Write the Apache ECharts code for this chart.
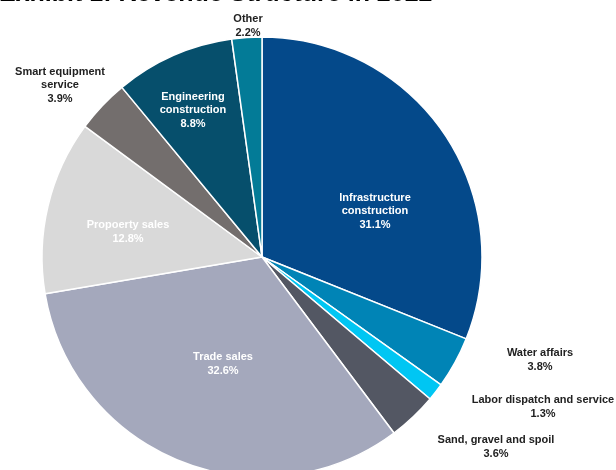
<!DOCTYPE html>
<html>
<head>
<meta charset="utf-8">
<script src="https://cdn.jsdelivr.net/npm/echarts@6/dist/echarts.min.js"></script>
<style>
  html, body { margin: 0; padding: 0; background: #fff; }
  #main { width: 616px; height: 470px; }
</style>
</head>
<body>
<div id="main"></div>
<script>
// 收入结构数据 (%)，从顶部顺时针
var categories = [
  "Infrastructure\nconstruction",
  "Water affairs",
  "Labor dispatch and service",
  "Sand, gravel and spoil",
  "Trade sales",
  "Propoerty sales",
  "Smart equipment\nservice",
  "Engineering\nconstruction",
  "Other"
];
var shares = [31.1, 3.8, 1.3, 3.6, 32.6, 12.8, 3.9, 8.8, 2.2];

var colors = ["#04498a", "#0084b6", "#00c6f3", "#535763", "#a4a8bc",
              "#d9d9d9", "#736e6d", "#064f6c", "#037b97"];
// 标签中心位置（像素）和颜色
var labelPos = [[375, 211], [540, 360], [543, 407], [496, 447], [223, 364],
                [128, 232], [60, 85], [193, 110], [248, 26]];
var labelColor = ["#fff", "#222", "#222", "#222", "#fff", "#fff", "#222", "#fff", "#222"];

var myChart = echarts.init(document.getElementById('main'));

var option = {
  animation: false,
  title: {
    text: "Exhibit 1: Revenue Structure in 2022",
    left: -1,
    top: -18,
    padding: 0,
    textStyle: {
      fontFamily: "Liberation Sans, Arial",
      fontSize: 25,
      fontWeight: "bold",
      color: "#000"
    }
  },
  series: [
    {
      type: "pie",
      center: [262, 257],
      radius: 220,
      startAngle: 90,
      clockwise: true,
      avoidLabelOverlap: false,
      itemStyle: { borderColor: "#fff", borderWidth: 1.5 },
      label: {
        show: true,
        position: "inside",
        fontFamily: "Liberation Sans, Arial",
        fontSize: 11,
        fontWeight: "bold",
        lineHeight: 13.5,
        align: "center",
        formatter: function (p) {
          return p.name + "\n" + p.value.toFixed(1) + "%";
        }
      },
      labelLine: { show: false },
      labelLayout: function (p) {
        var pos = labelPos[p.dataIndex];
        return { x: pos[0], y: pos[1], align: "center", verticalAlign: "middle" };
      },
      data: categories.map(function (c, i) {
        return {
          name: c,
          value: shares[i],
          itemStyle: { color: colors[i] },
          label: { color: labelColor[i] }
        };
      })
    }
  ]
};

myChart.setOption(option);
</script>
</body>
</html>
